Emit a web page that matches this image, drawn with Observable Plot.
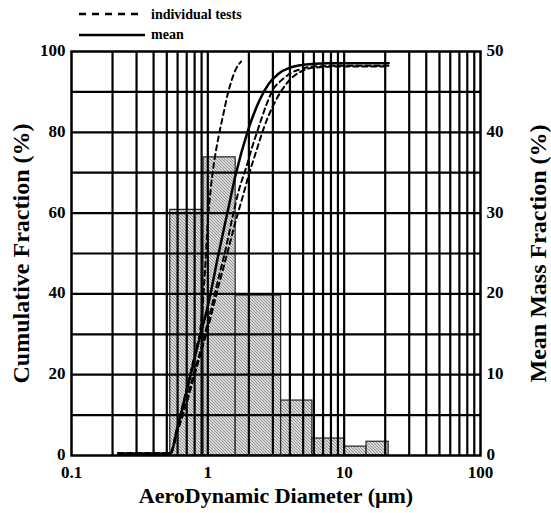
<!DOCTYPE html>
<html><head><meta charset="utf-8">
<script src="https://cdn.jsdelivr.net/npm/d3@7"></script>
<script src="https://cdn.jsdelivr.net/npm/@observablehq/plot@0.6"></script>
<style>body{margin:0;background:#fff}svg{overflow:visible}</style>
</head><body><div id="chart"></div>
<script>
// Histogram: stage edges (µm) and mean mass fraction (%) on right axis
const binEdges = [0.53, 0.93, 1.6, 3.45, 5.85, 10, 14.6, 21.2];
const massFraction = [30.4, 36.9, 19.8, 6.8, 2.1, 1.1, 1.7];

// Cumulative curves (diameter µm, cumulative %)
const meanD   = [0.22, 0.53, 0.6, 0.7, 0.8, 0.9, 1.0, 1.2, 1.4, 1.6, 1.95, 2.4, 2.8, 3.3, 4.0, 5.0, 7.5, 21.2];
const meanCum = [0.5, 0.5, 7, 16, 24, 31, 37, 50, 60.5, 69.5, 80, 88, 92, 94.5, 96, 96.7, 97.1, 97.1];

const testAD   = [0.22, 0.53, 0.6, 0.7, 0.8, 0.9, 0.95, 1.0, 1.05, 1.1, 1.2, 1.3, 1.4, 1.5, 1.6, 1.75];
const testACum = [0.5, 0.5, 7.5, 16.5, 25, 34, 45, 58, 66, 71.5, 79, 84.5, 89.5, 93, 95.5, 97.5];

const testBD   = [0.22, 0.53, 0.6, 0.7, 0.8, 0.9, 1.0, 1.2, 1.35, 1.54, 1.7, 1.9, 2.1, 2.4, 2.7, 3.0, 3.5, 4.0, 5.0, 6.0, 10, 21.2];
const testBCum = [0.5, 0.5, 6.5, 14, 21, 27, 33, 44, 51, 60, 66, 71, 76, 82, 87, 90.5, 93, 94.5, 95.8, 96.3, 96.5, 96.5];

const testCD   = [0.22, 0.53, 0.6, 0.7, 0.8, 0.9, 1.0, 1.2, 1.4, 1.6, 1.8, 2.0, 2.3, 2.6, 3.0, 3.5, 4.0, 5.0, 6.0, 10, 21.2];
const testCCum = [0.5, 0.5, 6, 13, 20, 26, 31.5, 42, 50.5, 58, 64, 69.5, 76, 81.5, 86.5, 90.5, 93, 95.3, 96, 96.3, 96.3];

const xTicks = [0.1, 1, 10, 100];
const yTicksLeft = [0, 20, 40, 60, 80, 100];
const yTicksRight = [0, 10, 20, 30, 40, 50];
const gridX = [0.2,0.3,0.4,0.5,0.6,0.7,0.8,0.9,1,2,3,4,5,6,7,8,9,10,20,30,40,50,60,70,80,90];
const gridY = [10,20,30,40,50,60,70,80,90];

const bars = massFraction.map((m, i) => ({x1: binEdges[i], x2: binEdges[i+1], m}));
const pts = (D, C) => D.map((d, i) => ({d, c: C[i]}));

const svg = Plot.plot({
  width: 551, height: 513,
  marginTop: 51, marginBottom: 58, marginLeft: 71, marginRight: 71,
  style: {fontFamily: "Liberation Serif", fontWeight: "bold", fontSize: "17px", background: "#fff", color: "#000"},
  x: {type: "log", domain: [0.1, 100]},
  y: {domain: [0, 100]},
  marks: [
    Plot.rect(bars, {x1: "x1", x2: "x2", y1: 0, y2: d => d.m * 2, fill: "url(#hatch)", stroke: "#222", strokeWidth: 1.2}),
    Plot.ruleX(gridX, {stroke: "black", strokeWidth: 2.2}),
    Plot.ruleY(gridY, {stroke: "black", strokeWidth: 2.2}),
    Plot.frame({stroke: "black", strokeWidth: 2.5}),
    Plot.line(pts(testAD, testACum), {x: "d", y: "c", stroke: "black", strokeWidth: 2, strokeDasharray: "5,4", curve: "monotone-x"}),
    Plot.line(pts(testBD, testBCum), {x: "d", y: "c", stroke: "black", strokeWidth: 2, strokeDasharray: "5,4", curve: "monotone-x"}),
    Plot.line(pts(testCD, testCCum), {x: "d", y: "c", stroke: "black", strokeWidth: 2, strokeDasharray: "5,4", curve: "monotone-x"}),
    Plot.line(pts(meanD, meanCum), {x: "d", y: "c", stroke: "black", strokeWidth: 2.5, curve: "monotone-x"}),
    Plot.axisX({ticks: xTicks, tickFormat: d => String(d), tickSize: 0, tickPadding: 10, label: null}),
    Plot.axisY({ticks: yTicksLeft, tickSize: 0, tickPadding: 6, dy: -1, label: null}),
    Plot.axisY({anchor: "right", ticks: yTicksLeft, tickFormat: (d, i) => String(yTicksRight[i]), tickSize: 0, tickPadding: 6, dy: -1, label: null}),
    Plot.text(["AeroDynamic Diameter (\u03bcm)"], {frameAnchor: "bottom", textAnchor: "middle", dy: 47, fontSize: 22, fontWeight: "bold"}),
    Plot.text(["Cumulative Fraction (%)"], {frameAnchor: "left", textAnchor: "middle", dx: -50, rotate: -90, fontSize: 24, fontWeight: "bold"}),
    Plot.text(["Mean Mass Fraction (%)"], {frameAnchor: "right", textAnchor: "middle", dx: 58, rotate: -90, fontSize: 24, fontWeight: "bold"})
  ]
});

const s = d3.select(svg);
const defs = s.insert("defs", ":first-child");
const p = defs.append("pattern").attr("id", "hatch").attr("patternUnits", "userSpaceOnUse").attr("width", 3).attr("height", 3);
p.append("rect").attr("width", 3).attr("height", 3).attr("fill", "#d9d9d9");
p.append("path").attr("d", "M0,0L3,3M-1,2L1,4M2,-1L4,1").attr("stroke", "#808080").attr("stroke-width", 0.8);

// Legend
const lg = s.append("g").attr("font-family", "Liberation Serif").attr("font-weight", "bold").attr("font-size", 14).attr("text-anchor", "start");
lg.append("line").attr("x1", 79).attr("x2", 141).attr("y1", 14).attr("y2", 14).attr("stroke", "black").attr("stroke-width", 2.5).attr("stroke-dasharray", "7,6");
lg.append("text").attr("x", 151).attr("y", 19).text("individual tests");
lg.append("line").attr("x1", 79).attr("x2", 145).attr("y1", 35).attr("y2", 35).attr("stroke", "black").attr("stroke-width", 2.5);
lg.append("text").attr("x", 151).attr("y", 39).text("mean");

document.getElementById("chart").appendChild(svg);
</script></body></html>
